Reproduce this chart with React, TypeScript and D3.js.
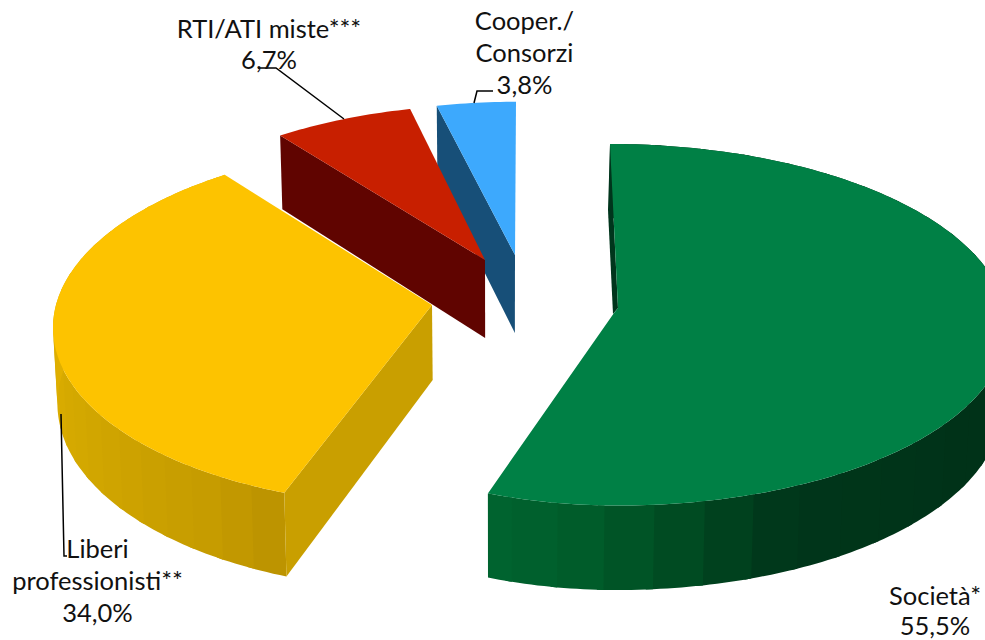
import React from "react";
import * as d3 from "d3";

const categories = ["Società*", "Liberi professionisti**", "RTI/ATI miste***", "Cooper./Consorzi"];
const shares = [55.5, 34.0, 6.7, 3.8];
const topColors = ["#008045", "#fdc300", "#c81f00", "#3da9fd"];
const cutFaceColors = ["#00351c", "#c99f00", "#600400", "#174f78"];

const WIDTH = 985;
const HEIGHT = 640;
const VANISH_X = 500;
const WALL_SHRINK = 0.99;

// Where each exploded wedge sits, and how its disc is foreshortened.
const wedgeFrames = [
  { cx: 614, cy: 313, rxLeft: 360, rxRight: 392, ry: 180, k: 0.065, lean: -4, depth: 79 },
  { cx: 432, cy: 305, rxLeft: 376, rxRight: 376, ry: 179, k: 0.11, lean: 6, depth: 75 },
  { cx: 485, cy: 260, rxLeft: 361, rxRight: 361, ry: 167, k: 0.077, lean: 4.7, depth: 78 },
  { cx: 515, cy: 255, rxLeft: 360, rxRight: 360, ry: 165, k: 0.077, lean: 1, depth: 78 },
];

type Frame = (typeof wedgeFrames)[number];
type Pt = [number, number];

const project = (f: Frame, theta: number, r: number): Pt => {
  const u = r * Math.sin(theta);
  const v = r * Math.cos(theta);
  const w = 1 / (1 + f.k * v);
  const rx = u < 0 ? f.rxLeft : f.rxRight;
  return [f.cx + rx * u * w + f.lean * v, f.cy - f.ry * v * w];
};

const dropped = (f: Frame, p: Pt, v: number): Pt => {
  const w = 1 / (1 + f.k * v);
  return [VANISH_X + (p[0] - VANISH_X) * WALL_SHRINK, p[1] + f.depth * w];
};

const arcs = d3.pie<number>().sort(null).value((d) => d)(shares);
const closed = d3.line<Pt>().curve(d3.curveLinearClosed);
const deg = (a: number) => (a * 180) / Math.PI;
const rad = (a: number) => (a * Math.PI) / 180;

const greenWall = d3
  .scaleLinear<string>()
  .domain([197, 185, 174, 166, 156, 90])
  .range(["#00632f", "#005c2a", "#004f24", "#00431f", "#00361a", "#002f17"])
  .clamp(true);
const yellowWall = d3
  .scaleLinear<string>()
  .domain([200, 212, 240, 270, 325])
  .range(["#bb9200", "#c69c00", "#d2a700", "#e0b000", "#e6b500"])
  .clamp(true);

const wallColor = [greenWall, yellowWall];
const bandDegrees = [7, 5];

type Label = { lines: string[]; x: number; baselines: number[] };
const labels: Label[] = [
  { lines: ["Società*", "55,5%"], x: 935, baselines: [605, 635] },
  { lines: ["Liberi", "professionisti**", "34,0%"], x: 97.5, baselines: [558, 590, 622] },
  { lines: ["RTI/ATI miste***", "6,7%"], x: 269, baselines: [38, 69] },
  { lines: ["Cooper./", "Consorzi", "3,8%"], x: 524.5, baselines: [30, 62, 94] },
];

const leaders: Pt[][] = [
  [[61, 414], [64, 556], [67, 556]],
  [[344, 119], [276, 68], [258, 68]],
  [[474, 103], [477, 91], [493, 91]],
];

function Wedge({ index }: { index: number }) {
  const a = arcs[index];
  const f = wedgeFrames[index];
  const steps = d3.range(a.startAngle, a.endAngle, rad(1)).concat(a.endAngle);
  const rim = steps.map((t) => project(f, t, 1));
  const apex = project(f, 0, 0);
  const apexLow = dropped(f, apex, 0);
  const top = [apex, ...rim];

  const rimLow = (t: number) => dropped(f, project(f, t, 1), Math.cos(t));

  const walls: React.ReactNode[] = [];
  if (index < 2) {
    // Outer wall, split into bands that each take one shade; every band runs
    // slightly under the next one so no seam shows between them.
    const band = rad(bandDegrees[index]);
    const edges = d3.range(a.startAngle, a.endAngle, band).concat(a.endAngle);
    d3.pairs(edges).forEach(([t0, t1], i) => {
      const end = Math.min(t1 + rad(1), a.endAngle);
      const samples = d3.range(t0, end, rad(1)).concat(end);
      const upper = samples.map((t) => project(f, t, 1));
      const lower = samples.map(rimLow).reverse();
      walls.push(
        <path key={i} d={closed([...upper, ...lower]) ?? ""} fill={wallColor[index](deg((t0 + t1) / 2))} />
      );
    });
  }

  let cutFace: Pt[] | null = null;
  if (index >= 1) {
    const p = project(f, a.startAngle, 1);
    cutFace = [apex, p, rimLow(a.startAngle), apexLow];
  }

  // The largest wedge only shows a thin sliver of its cut face beside the centre.
  let sliver: Pt[] | null = null;
  if (index === 0) {
    const outer = project(f, 0, 1);
    sliver = [outer, [apex[0] + 4, apex[1] - 5], [apex[0] - 1, apex[1] + 1], [outer[0] - 2, outer[1] + 66]];
  }

  return (
    <g>
      {walls}
      {cutFace && <path d={closed(cutFace) ?? ""} fill={cutFaceColors[index]} />}
      {sliver && <path d={closed(sliver) ?? ""} fill={cutFaceColors[index]} />}
      <path
        d={closed(index === 0 ? [[apex[0] + 4, apex[1] - 5], ...rim, apex] : top) ?? ""}
        fill={topColors[index]}
      />
    </g>
  );
}

export default function App() {
  // Painted back to front so nearer wedges overlap the ones behind.
  const paintOrder = [3, 2, 1, 0];
  return (
    <svg
      width={WIDTH}
      height={HEIGHT}
      viewBox={`0 0 ${WIDTH} ${HEIGHT}`}
      style={{ position: "absolute", left: 0, top: 0, background: "#ffffff" }}
      aria-label={categories.join(", ")}
    >
      {paintOrder.map((i) => (
        <Wedge key={i} index={i} />
      ))}
      {leaders.map((pts, i) => (
        <path key={i} d={d3.line()(pts as [number, number][]) ?? ""} fill="none" stroke="#000000" strokeWidth={1.5} />
      ))}
      {labels.map((l, i) => (
        <g key={i} fontFamily="Lato, 'Open Sans', sans-serif" fontSize={25.5} fill="#111111" textAnchor="middle">
          {l.lines.map((line, j) => (
            <text key={j} x={l.x} y={l.baselines[j]}>
              {line}
            </text>
          ))}
        </g>
      ))}
    </svg>
  );
}
